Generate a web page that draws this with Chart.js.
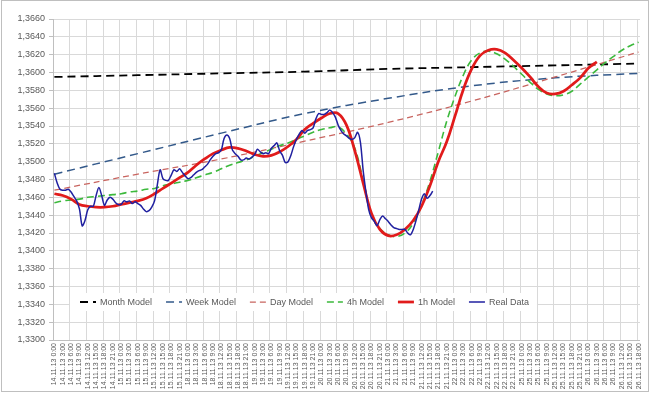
<!DOCTYPE html>
<html lang="en">
<head>
<meta charset="UTF-8">
<title>Models vs Real Data</title>
<script src="https://cdn.jsdelivr.net/npm/chart.js"></script>
<style>
body {
    margin: 0;
    background: #fff;
}
.wrap {
    width: 650px;
    height: 394px;
}
</style>
</head>
<body>
<div class="wrap"><canvas id="chart" width="650" height="394"></canvas></div>
<script>
// tick labels: every 3 hours, weekends skipped
const days = ['14.11.13', '15.11.13', '18.11.13', '19.11.13', '20.11.13', '21.11.13', '22.11.13', '25.11.13', '26.11.13'];
const hours = ['0:00', '3:00', '6:00', '9:00', '12:00', '15:00', '18:00', '21:00'];
const tickLabels = days.flatMap(d => hours.map(h => d + ' ' + h)).slice(0, 71);

// long models, one value every 30 hours
const monthModel = [1.3595, 1.3597, 1.3599, 1.3601, 1.3604, 1.3606, 1.3608, 1.3610];
const weekModel = [1.3486, 1.3509, 1.3532, 1.3554, 1.3571, 1.3585, 1.3594, 1.3599];
const dayModel = [1.3468, 1.3486, 1.3503, 1.3523, 1.3544, 1.3568, 1.3595, 1.3623];

// short models, one value every 3 hours
const model4h = [
    1.3454, 1.3456, 1.3457, 1.3458, 1.3460, 1.3461, 1.3462, 1.3463, 1.3464, 1.3466,
    1.3467, 1.3469, 1.3470, 1.3473, 1.3475, 1.3477, 1.3479, 1.3482, 1.3485, 1.3488,
    1.3492, 1.3496, 1.3499, 1.3502, 1.3506, 1.3510, 1.3514, 1.3518, 1.3521, 1.3525,
    1.3529, 1.3533, 1.3536, 1.3538, 1.3539, 1.3531, 1.3515, 1.3479, 1.3441, 1.3425,
    1.3418, 1.3416, 1.3420, 1.3431, 1.3451, 1.3478, 1.3511, 1.3545, 1.3573, 1.3597,
    1.3614, 1.3622, 1.3624, 1.3621, 1.3615, 1.3607, 1.3598, 1.3589, 1.3581, 1.3576,
    1.3574, 1.3575, 1.3579, 1.3587, 1.3595, 1.3603, 1.3611, 1.3618, 1.3625, 1.3630,
    1.3634
];
const model1h = [
    1.3464, 1.3462, 1.3458, 1.3452, 1.3450, 1.3449, 1.3449, 1.3450, 1.3452, 1.3454,
    1.3456, 1.3459, 1.3464, 1.3470, 1.3476, 1.3482, 1.3488, 1.3496, 1.3503, 1.3509,
    1.3513, 1.3516, 1.3515, 1.3512, 1.3508, 1.3506, 1.3507, 1.3511, 1.3517, 1.3525,
    1.3536, 1.3543, 1.3549, 1.3554, 1.3554, 1.3541, 1.3512, 1.3476, 1.3442, 1.3424,
    1.3417, 1.3418, 1.3424, 1.3434, 1.3450, 1.3473, 1.3500, 1.3522, 1.3551, 1.3581,
    1.3604, 1.3619, 1.3625, 1.3626, 1.3622, 1.3614, 1.3605, 1.3595, 1.3584, 1.3577,
    1.3576, 1.3579, 1.3586, 1.3594, 1.3605, 1.3612
];

// hourly quotes
const realData = [
    1.3487, 1.3476, 1.3469, 1.3468, 1.3468, 1.3469, 1.3466, 1.3461, 1.3456, 1.3447,
    1.3428, 1.3434, 1.3446, 1.3450, 1.3450, 1.3462, 1.3471, 1.3462, 1.3451, 1.3457,
    1.3460, 1.3458, 1.3454, 1.3452, 1.3452, 1.3456, 1.3455, 1.3456, 1.3453, 1.3455,
    1.3453, 1.3451, 1.3447, 1.3444, 1.3445, 1.3449, 1.3456, 1.3474, 1.3491, 1.3481,
    1.3479, 1.3479, 1.3485, 1.3491, 1.3489, 1.3492, 1.3488, 1.3484, 1.3481, 1.3482,
    1.3485, 1.3488, 1.3490, 1.3491, 1.3494, 1.3497, 1.3502, 1.3506, 1.3509, 1.3510,
    1.3513, 1.3526, 1.3530, 1.3526, 1.3513, 1.3509, 1.3506, 1.3502, 1.3502, 1.3504,
    1.3503, 1.3505, 1.3508, 1.3514, 1.3511, 1.3509, 1.3510, 1.3509, 1.3515, 1.3518,
    1.3521, 1.3512, 1.3507, 1.3499, 1.3500, 1.3507, 1.3517, 1.3525, 1.3531, 1.3535,
    1.3532, 1.3535, 1.3536, 1.3538, 1.3548, 1.3554, 1.3553, 1.3553, 1.3555, 1.3558,
    1.3555, 1.3550, 1.3541, 1.3535, 1.3531, 1.3529, 1.3526, 1.3525, 1.3527, 1.3533,
    1.3522, 1.3490, 1.3466, 1.3446, 1.3437, 1.3433, 1.3428, 1.3435, 1.3439, 1.3436,
    1.3433, 1.3429, 1.3426, 1.3425, 1.3424, 1.3424, 1.3424, 1.3420, 1.3418, 1.3424,
    1.3434, 1.3446, 1.3458, 1.3464, 1.3459, 1.3462, 1.3467
];

function points(values, step) {
    return values.map((v, i) => ({ x: i * step, y: v }));
}

const textColor = '#595959';
const gridColor = '#d9d9d9';
const axisColor = '#bfbfbf';
const smallFont = "'Liberation Sans', sans-serif";

const background = {
    id: 'background',
    beforeDraw(chart) {
        const ctx = chart.ctx;
        ctx.save();
        ctx.fillStyle = '#fff';
        ctx.fillRect(0, 0, chart.width, chart.height);
        ctx.strokeStyle = axisColor;
        ctx.lineWidth = 1;
        ctx.strokeRect(1.5, 0.5, chart.width - 3, chart.height - 3);
        ctx.restore();
    }
};

// legend sits inside the plot, above the x axis
const insideLegend = {
    id: 'insideLegend',
    afterDraw(chart) {
        const { ctx, chartArea } = chart;
        const y = chartArea.bottom - 38;
        ctx.save();
        ctx.font = '9px ' + smallFont;
        const items = chart.data.datasets.map(ds => ({ ds, w: ctx.measureText(ds.label).width }));
        const total = items.reduce((s, it) => s + 20 + it.w + 14, 0);
        const x0 = chartArea.left + 17;
        ctx.fillStyle = '#fff';
        ctx.fillRect(x0, y - 9, total + 4, 18);
        let x = x0 + 10;
        items.forEach(({ ds, w }) => {
            ctx.beginPath();
            ctx.setLineDash(ds.borderDash || []);
            ctx.strokeStyle = ds.borderColor;
            ctx.lineWidth = ds.borderWidth;
            ctx.moveTo(x, y);
            ctx.lineTo(x + 16, y);
            ctx.stroke();
            ctx.setLineDash([]);
            ctx.fillStyle = textColor;
            ctx.textBaseline = 'middle';
            ctx.fillText(ds.label, x + 20, y + 0.5);
            x += 20 + w + 14;
        });
        ctx.restore();
    }
};

const line = (label, data, color, width, dash, order) => ({
    label: label,
    data: data,
    borderColor: color,
    backgroundColor: color,
    borderWidth: width,
    borderDash: dash,
    pointRadius: 0,
    tension: 0.4,
    fill: false,
    order: order
});

new Chart(document.getElementById('chart'), {
    type: 'line',
    data: {
        datasets: [
            line('Month Model', points(monthModel, 30), '#000000', 1.8, [8, 5], 6),
            line('Week Model', points(weekModel, 30), '#33598a', 1.5, [8, 5], 5),
            line('Day Model', points(dayModel, 30), '#c8645f', 1.25, [6, 4], 4),
            line('4h Model', points(model4h, 3), '#3cb93c', 1.6, [7, 4], 3),
            line('1h Model', points(model1h, 3), '#e11b1b', 2.75, [], 2),
            Object.assign(line('Real Data', points(realData, 1), '#2020a0', 1.5, [], 1), { tension: 0.3 })
        ]
    },
    options: {
        responsive: false,
        devicePixelRatio: 1,
        animation: false,
        layout: { padding: { top: 19, right: 5, left: 0, bottom: 0 } },
        plugins: {
            legend: { display: false },
            tooltip: { enabled: false }
        },
        scales: {
            x: {
                type: 'linear',
                position: 'bottom',
                min: -0.5,
                max: 210.5,
                afterBuildTicks: axis => {
                    axis.ticks = tickLabels.map((_, i) => ({ value: i * 3 }));
                },
                afterFit: axis => { axis.height = 54; },
                ticks: {
                    autoSkip: false,
                    minRotation: 90,
                    maxRotation: 90,
                    padding: 3,
                    color: textColor,
                    font: { size: 7, family: smallFont },
                    callback: (value, index) => tickLabels[index]
                },
                grid: { drawOnChartArea: false, drawTicks: false },
                border: { color: axisColor }
            },
            xg: {
                type: 'linear',
                position: 'top',
                min: -0.5,
                max: 210.5,
                afterBuildTicks: axis => {
                    const t = [];
                    for (let k = 0; k <= 35; k++) t.push({ value: -0.5 + 6 * k });
                    axis.ticks = t;
                },
                afterFit: axis => { axis.height = 0; },
                ticks: { display: false },
                grid: { color: gridColor, drawTicks: false },
                border: { display: false }
            },
            y: {
                min: 1.33,
                max: 1.366,
                afterFit: axis => { axis.width = 53; },
                ticks: {
                    stepSize: 0.002,
                    padding: 4,
                    color: textColor,
                    font: { size: 9, family: smallFont },
                    callback: v => v.toFixed(4).replace('.', ',')
                },
                grid: { color: gridColor, tickLength: 4, tickColor: axisColor },
                border: { color: axisColor }
            }
        }
    },
    plugins: [background, insideLegend]
});
</script>
</body>
</html>
